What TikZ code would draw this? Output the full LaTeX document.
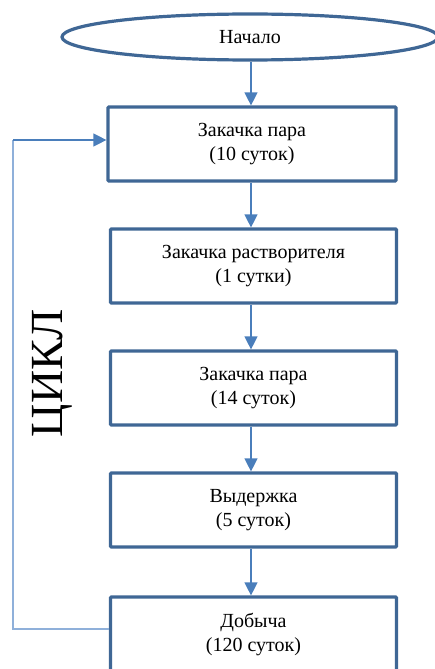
\documentclass[tikz,border=0pt]{standalone}
\usepackage{fontspec}
\setmainfont{Liberation Serif}
\usetikzlibrary{arrows.meta,shapes.geometric}
\definecolor{boxc}{HTML}{3F6795}
\definecolor{arrc}{HTML}{4A7EBB}
\definecolor{loopc}{HTML}{8FB0DA}
\begin{document}
\begin{tikzpicture}[x=1pt,y=-1pt,
  stepbox/.style={draw=boxc,line width=3.2pt,fill=white,rounded corners=1pt,
    minimum width=286pt,minimum height=74pt,align=center,inner sep=0pt,
    font=\fontsize{20}{24}\selectfont},
  flow/.style={draw=arrc,line width=1.3pt,-{Triangle[length=13pt,width=13pt]}},
  loopline/.style={draw=loopc,line width=1.3pt}]
\useasboundingbox (0,0) rectangle (435,669);
\node[draw=boxc,line width=3.2pt,ellipse,fill=white,minimum width=376pt,minimum height=46pt,
  inner sep=0pt,font=\fontsize{20}{24}\selectfont] (start) at (250,37) {Начало};
\node[stepbox,minimum width=288pt] (b1) at (252,144) {Закачка пара\\(10 суток)};
\node[stepbox] (b2) at (253.5,266) {Закачка растворителя\\(1 сутки)};
\node[stepbox] (b3) at (253.5,388) {Закачка пара\\(14 суток)};
\node[stepbox] (b4) at (253.5,510) {Выдержка\\(5 суток)};
\node[stepbox] (b5) at (253.5,634) {Добыча\\(120 суток)};
\draw[flow] (start.south -| 251,0) -- (b1.north -| 251,0);
\draw[flow] (b1.south -| 251,0) -- (b2.north -| 251,0);
\draw[flow] (b2.south -| 251,0) -- (b3.north -| 251,0);
\draw[flow] (b3.south -| 251,0) -- (b4.north -| 251,0);
\draw[flow] (b4.south -| 251,0) -- (b5.north -| 251,0);
\coordinate (lb) at (13,629);
\coordinate (lt) at (13,140);
\draw[loopline] (b5.west |- lb) -- (lb) -- (lt);
\draw[flow] (lt) -- (b1.west |- lt);
\node[rotate=90,font=\fontsize{46}{50}\selectfont,inner sep=0pt] (cyc) at (52,373) {ЦИКЛ};
\end{tikzpicture}
\end{document}
